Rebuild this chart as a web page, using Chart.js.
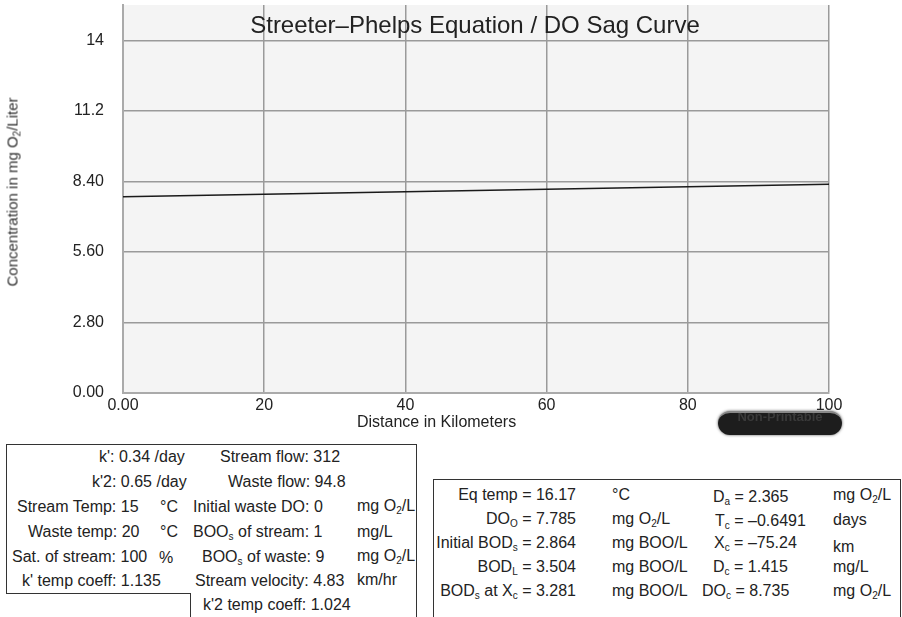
<!DOCTYPE html>
<html>
<head>
<meta charset="utf-8">
<script src="https://cdn.jsdelivr.net/npm/chart.js@4/dist/chart.umd.min.js"></script>
<style>
  body { margin: 0; background: #fff; font-family: "Liberation Sans", Arial, sans-serif; color: #222; }
  #wrap { position: relative; width: 902px; height: 617px; overflow: hidden; }
  #chart { position: absolute; left: 0; top: 0; }
  .t { position: absolute; white-space: nowrap; font-size: 16px; line-height: 18px; }
  sub { font-size: 10px; vertical-align: -3px; line-height: 0; }
  #title { position: absolute; left: 0; width: 950px; top: 11px; text-align: center; font-size: 24px; color: #222; }
  #xtitle { position: absolute; left: 357px; top: 413px; font-size: 16px; }
  #ytitle { position: absolute; left: 12px; top: 192px; font-size: 15px; color: #333; transform: translate(-50%, -50%) rotate(-90deg); white-space: nowrap; }
  #btn { position: absolute; left: 718px; top: 411px; width: 124px; height: 24px; border-radius: 12px;
         background: #1d1d1d; box-shadow: 0 0 3px #555; border-top: 2px solid #888; box-sizing: border-box;
         color: #3a3a3a; font-size: 13px; font-weight: bold; text-align: center; line-height: 8px; overflow: hidden; }
  #box1 { position: absolute; left: 6px; top: 444px; width: 411px; height: 200px; border: 1px solid #333; box-sizing: border-box; }
  #box1cut { position: absolute; left: 6px; top: 593px; width: 184px; height: 40px; background: #fff; border-top: 1px solid #333; border-right: 1px solid #333; }
  #box2 { position: absolute; left: 433px; top: 479px; width: 468px; height: 200px; border: 1px solid #333; box-sizing: border-box; }
</style>
</head>
<body>
<div id="wrap">
  <canvas id="chart" width="902" height="440"></canvas>
  <div id="title">Streeter&ndash;Phelps Equation / DO Sag Curve</div>
  <div id="xtitle">Distance in Kilometers</div>
  <div id="ytitle">Concentration in mg O<sub>2</sub>/Liter</div>
  <div id="btn">Non-Printable</div>

  <div id="box1"></div>
  <div id="box1cut"></div>
  <div id="box2"></div>

  <!-- input panel -->
  <div class="t" style="left:99px;top:448px">k': 0.34 /day</div>
  <div class="t" style="left:92px;top:473px">k'2: 0.65 /day</div>
  <div class="t" style="left:17px;top:498px">Stream Temp: 15</div>
  <div class="t" style="left:160px;top:498px">°C</div>
  <div class="t" style="left:28px;top:523px">Waste temp: 20</div>
  <div class="t" style="left:160px;top:523px">°C</div>
  <div class="t" style="left:12px;top:548px">Sat. of stream: 100</div>
  <div class="t" style="left:159px;top:549px">%</div>
  <div class="t" style="left:22px;top:572px">k' temp coeff: 1.135</div>

  <div class="t" style="left:220px;top:448px">Stream flow: 312</div>
  <div class="t" style="left:228px;top:473px">Waste flow: 94.8</div>
  <div class="t" style="left:193px;top:498px">Initial waste DO: 0</div>
  <div class="t" style="left:193px;top:523px">BOO<sub>s</sub> of stream: 1</div>
  <div class="t" style="left:202px;top:548px">BOO<sub>s</sub> of waste: 9</div>
  <div class="t" style="left:195px;top:572px">Stream velocity: 4.83</div>
  <div class="t" style="left:203px;top:596px">k'2 temp coeff: 1.024</div>

  <div class="t" style="left:357px;top:497px">mg O<sub>2</sub>/L</div>
  <div class="t" style="left:357px;top:523px">mg/L</div>
  <div class="t" style="left:357px;top:547px">mg O<sub>2</sub>/L</div>
  <div class="t" style="left:357px;top:571px">km/hr</div>

  <!-- results panel -->
  <div class="t" style="right:326px;top:486px">Eq temp = 16.17</div>
  <div class="t" style="right:326px;top:510px">DO<sub>O</sub> = 7.785</div>
  <div class="t" style="right:326px;top:534px">Initial BOD<sub>s</sub> = 2.864</div>
  <div class="t" style="right:326px;top:558px">BOD<sub>L</sub> = 3.504</div>
  <div class="t" style="right:326px;top:582px">BOD<sub>s</sub> at X<sub>c</sub> = 3.281</div>

  <div class="t" style="left:612px;top:486px">°C</div>
  <div class="t" style="left:612px;top:510px">mg O<sub>2</sub>/L</div>
  <div class="t" style="left:612px;top:534px">mg BOO/L</div>
  <div class="t" style="left:612px;top:558px">mg BOO/L</div>
  <div class="t" style="left:612px;top:582px">mg BOO/L</div>

  <div class="t" style="left:713px;top:488px">D<sub>a</sub> = 2.365</div>
  <div class="t" style="left:715px;top:512px">T<sub>c</sub> = &ndash;0.6491</div>
  <div class="t" style="left:714px;top:534px">X<sub>c</sub> = &ndash;75.24</div>
  <div class="t" style="left:713px;top:558px">D<sub>c</sub> = 1.415</div>
  <div class="t" style="left:702px;top:582px">DO<sub>c</sub> = 8.735</div>

  <div class="t" style="left:833px;top:486px">mg O<sub>2</sub>/L</div>
  <div class="t" style="left:833px;top:511px">days</div>
  <div class="t" style="left:833px;top:538px">km</div>
  <div class="t" style="left:833px;top:558px">mg/L</div>
  <div class="t" style="left:833px;top:582px">mg O<sub>2</sub>/L</div>
</div>

<script>
// distance along stream (km) and dissolved oxygen (mg O2/L)
const distances = [0, 10, 20, 30, 40, 50, 60, 70, 80, 90, 100];
const doValues = [7.785, 7.84, 7.89, 7.94, 7.99, 8.04, 8.09, 8.14, 8.19, 8.24, 8.29];

const xTicks = [0, 20, 40, 60, 80, 100];
const xTickLabels = ["0.00", "20", "40", "60", "80", "100"];
const yTicks = [0, 2.8, 5.6, 8.4, 11.2, 14];
const yTickLabels = ["0.00", "2.80", "5.60", "8.40", "11.2", "14"];

// grey plot background
const plotBg = {
    id: 'plotBg',
    beforeDraw(chart) {
        const a = chart.chartArea;
        const ctx = chart.ctx;
        ctx.save();
        ctx.fillStyle = '#f4f4f4';
        ctx.fillRect(a.left, a.top, a.right - a.left, a.bottom - a.top);
        ctx.restore();
    }
};

new Chart(document.getElementById("chart"), {
    type: 'line',
    data: {
        datasets: [{
            label: "DO",
            data: distances.map((d, i) => ({ x: d, y: doValues[i] })),
            borderColor: "#1a1a1a",
            borderWidth: 1.5,
            pointRadius: 0,
            tension: 0
        }]
    },
    options: {
        responsive: false,
        animation: false,
        layout: { padding: { left: 0, right: 73, top: 5, bottom: 0 } },
        plugins: {
            legend: { display: false },
            tooltip: { enabled: false }
        },
        scales: {
            x: {
                type: 'linear',
                min: 0,
                max: 100,
                afterBuildTicks: axis => { axis.ticks = xTicks.map(v => ({ value: v })); },
                afterFit: axis => { axis.height = 47; },
                ticks: {
                    maxRotation: 0,
                    padding: 3,
                    color: '#222',
                    font: { family: '"Liberation Sans", Arial', size: 16 },
                    callback: (v) => xTickLabels[xTicks.indexOf(v)]
                },
                grid: { color: '#9a9a9a', lineWidth: 1.5, drawTicks: false },
                border: { color: '#aaa', width: 2 }
            },
            y: {
                min: 0,
                max: 15.4,
                afterBuildTicks: axis => { axis.ticks = yTicks.map(v => ({ value: v })); },
                afterFit: axis => {
                    axis.width = 123;
                    // tick padding would otherwise push the plot down
                    axis.paddingTop = 0;
                    axis.paddingBottom = 0;
                },
                ticks: {
                    padding: 19,
                    color: '#222',
                    font: { family: '"Liberation Sans", Arial', size: 16 },
                    callback: (v) => yTickLabels[yTicks.indexOf(v)]
                },
                grid: { color: '#9a9a9a', lineWidth: 1.5, drawTicks: false },
                border: { color: '#aaa', width: 2 }
            }
        }
    },
    plugins: [plotBg]
});
</script>
</body>
</html>
